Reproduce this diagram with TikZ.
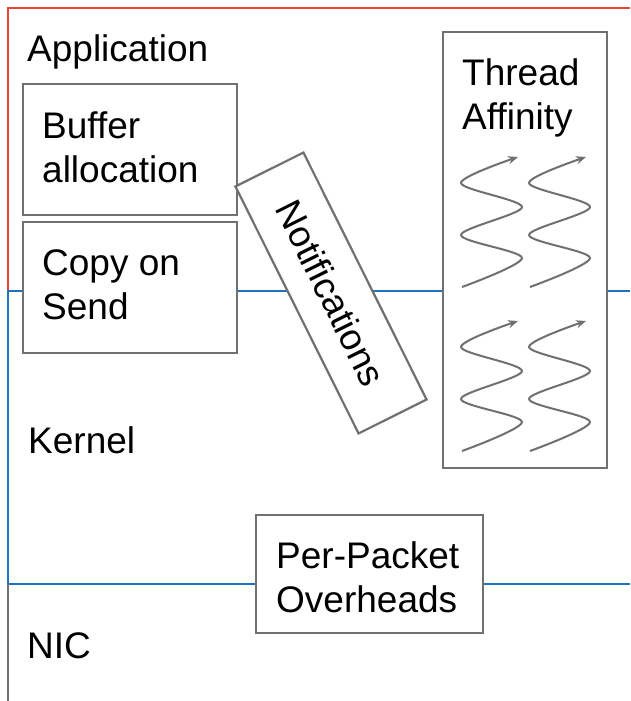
\documentclass[tikz,border=0pt]{standalone}
\usepackage{fontspec}
\setmainfont{Liberation Sans}
\usetikzlibrary{arrows.meta}
\definecolor{appred}{RGB}{232,68,56}
\definecolor{kernblue}{RGB}{30,114,190}
\definecolor{boxgray}{RGB}{112,112,112}
\newcommand\bigf{\fontsize{37}{44}\selectfont}
\tikzset{
  layerline/.style={line width=2pt},
  box/.style={draw=boxgray, fill=white, line width=2.2pt, rectangle, inner sep=0pt},
  lbl/.style={font=\bigf, anchor=base west, inner sep=0pt, align=left},
  squig/.style={draw=boxgray, line width=2pt, -{Stealth[length=10pt,width=8pt]}},
}
\begin{document}
\begin{tikzpicture}[x=1pt,y=-1pt]
\useasboundingbox (0,0) rectangle (630,701);
% layer boundaries
\coordinate (rtop) at (630,8);
\coordinate (rcorner) at (8,8);
\coordinate (ktop) at (8,291);
\coordinate (kright) at (630,291);
\coordinate (nleft) at (8,584);
\coordinate (nright) at (630,584);
\coordinate (bottom) at (8,701);
\draw[layerline, appred] (ktop) -- (rcorner) -- (rtop);
\draw[layerline, kernblue] (kright) -- (ktop) -- (nleft) -- (nright);
\draw[layerline, boxgray] (nleft) -- (bottom);
% labels
\node[lbl] (app) at (27,62) {Application};
\node[lbl] (kern) at (28,453) {Kernel};
\node[lbl] (nic) at (27,658) {NIC};
% boxes (multi-line labels: base anchor is the last line)
\node[box, minimum width=214pt, minimum height=131pt] (buf) at (130,149.5) {};
\node[lbl] (buftxt) at (42,182) {Buffer\\allocation};
\node[box, minimum width=214pt, minimum height=131pt] (copy) at (130,287.5) {};
\node[lbl] (copytxt) at (42,319) {Copy on\\Send};
\node[box, minimum width=164pt, minimum height=436pt] (thr) at (525,250) {};
\node[lbl] (thrtxt) at (462,129) {Thread\\Affinity};
\node[box, minimum width=227pt, minimum height=118pt] (ppo) at (369.5,574) {};
\node[lbl] (ppotxt) at (276,612) {Per-Packet\\Overheads};
\node[box, minimum width=276pt, minimum height=76pt, rotate=-63.5, font=\bigf] (notif) at (331,293) {Notifications};
% threads
\foreach \dx in {0,68}{
  \foreach \dy in {0,164}{
    \draw[squig, shift={(\dx,\dy)}] plot[smooth] coordinates {(462,287) (522,258) (461,235) (522,207) (461,183) (518,157)};
  }
}
\end{tikzpicture}
\end{document}
